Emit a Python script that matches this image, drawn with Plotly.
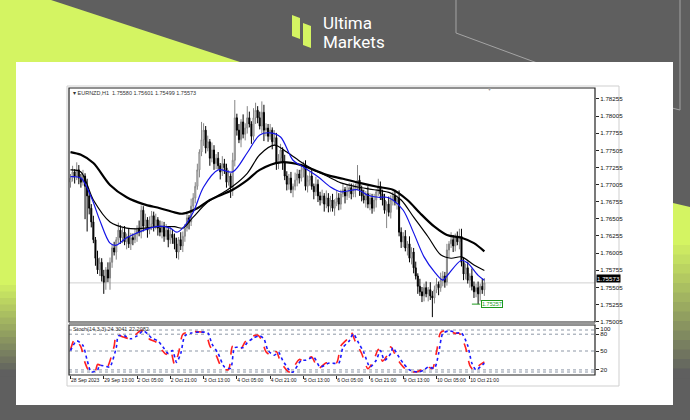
import plotly.graph_objects as go

# ---------------- data ----------------
open_ = [1.7704,1.7710,1.7719,1.7713,1.7722,1.7710,1.7704,1.7713,1.7698,1.7684,
1.7666,1.7646,1.7620,1.7593,1.7576,1.7587,1.7567,1.7558,1.7576,1.7564,
1.7587,1.7608,1.7602,1.7620,1.7634,1.7623,1.7631,1.7617,1.7625,1.7614,
1.7623,1.7620,1.7628,1.7637,1.7631,1.7663,1.7640,1.7649,1.7634,1.7643,
1.7655,1.7640,1.7649,1.7637,1.7631,1.7640,1.7625,1.7634,1.7620,1.7628,
1.7623,1.7614,1.7602,1.7620,1.7611,1.7625,1.7637,1.7652,1.7646,1.7669,
1.7681,1.7698,1.7722,1.7748,1.7766,1.7780,1.7754,1.7763,1.7739,1.7751,
1.7731,1.7739,1.7728,1.7719,1.7731,1.7725,1.7704,1.7713,1.7696,1.7736,
1.7798,1.7780,1.7766,1.7792,1.7774,1.7783,1.7798,1.7789,1.7771,1.7798,
1.7809,1.7798,1.7786,1.7806,1.7780,1.7783,1.7771,1.7780,1.7763,1.7769,
1.7731,1.7739,1.7751,1.7733,1.7713,1.7701,1.7710,1.7693,1.7698,1.7707,
1.7716,1.7710,1.7722,1.7725,1.7698,1.7707,1.7713,1.7698,1.7690,1.7701,
1.7684,1.7678,1.7684,1.7672,1.7681,1.7669,1.7678,1.7666,1.7675,1.7681,
1.7672,1.7687,1.7693,1.7684,1.7690,1.7696,1.7687,1.7693,1.7698,1.7707,
1.7693,1.7684,1.7678,1.7687,1.7672,1.7681,1.7666,1.7678,1.7690,1.7698,
1.7687,1.7678,1.7663,1.7672,1.7660,1.7678,1.7684,1.7675,1.7681,1.7631,
1.7617,1.7625,1.7608,1.7614,1.7593,1.7602,1.7579,1.7567,1.7552,1.7544,
1.7538,1.7550,1.7541,1.7547,1.7538,1.7535,1.7547,1.7555,1.7550,1.7561,
1.7567,1.7558,1.7605,1.7614,1.7620,1.7611,1.7623,1.7617,1.7625,1.7587,
1.7570,1.7579,1.7561,1.7567,1.7552,1.7544,1.7550,1.7541,1.7552,1.7547]

high = [1.7716,1.7728,1.7723,1.7733,1.7729,1.7716,1.7722,1.7717,1.7709,1.7691,
1.7672,1.7655,1.7624,1.7604,1.7594,1.7593,1.7576,1.7580,1.7587,1.7594,
1.7614,1.7617,1.7624,1.7645,1.7641,1.7637,1.7640,1.7629,1.7636,1.7630,
1.7629,1.7637,1.7641,1.7648,1.7670,1.7669,1.7658,1.7653,1.7654,1.7662,
1.7661,1.7658,1.7653,1.7648,1.7647,1.7646,1.7643,1.7638,1.7639,1.7635,
1.7629,1.7623,1.7624,1.7631,1.7632,1.7643,1.7661,1.7656,1.7680,1.7688,
1.7704,1.7731,1.7752,1.7792,1.7790,1.7786,1.7772,1.7767,1.7762,1.7758,
1.7745,1.7748,1.7732,1.7742,1.7738,1.7731,1.7722,1.7717,1.7747,1.7824,
1.7804,1.7789,1.7796,1.7803,1.7790,1.7815,1.7807,1.7793,1.7812,1.7820,
1.7815,1.7807,1.7822,1.7817,1.7790,1.7789,1.7789,1.7784,1.7780,1.7776,
1.7745,1.7760,1.7755,1.7744,1.7720,1.7716,1.7719,1.7702,1.7718,1.7723,
1.7722,1.7731,1.7734,1.7736,1.7714,1.7719,1.7722,1.7702,1.7712,1.7708,
1.7690,1.7693,1.7688,1.7692,1.7688,1.7684,1.7687,1.7679,1.7692,1.7688,
1.7693,1.7702,1.7697,1.7701,1.7703,1.7702,1.7702,1.7702,1.7729,1.7714,
1.7699,1.7693,1.7691,1.7698,1.7688,1.7687,1.7687,1.7694,1.7709,1.7705,
1.7693,1.7687,1.7676,1.7683,1.7685,1.7690,1.7693,1.7685,1.7692,1.7638,
1.7631,1.7634,1.7618,1.7625,1.7609,1.7608,1.7588,1.7571,1.7563,1.7551,
1.7556,1.7559,1.7551,1.7558,1.7545,1.7553,1.7564,1.7559,1.7572,1.7574,
1.7573,1.7614,1.7618,1.7631,1.7627,1.7629,1.7632,1.7636,1.7636,1.7594,
1.7585,1.7588,1.7571,1.7578,1.7559,1.7556,1.7559,1.7556,1.7563,1.7564]

low = [1.7696,1.7705,1.7702,1.7707,1.7701,1.7696,1.7699,1.7650,1.7632,1.7657,
1.7638,1.7615,1.7582,1.7570,1.7567,1.7559,1.7541,1.7547,1.7558,1.7547,
1.7579,1.7597,1.7591,1.7614,1.7614,1.7615,1.7612,1.7606,1.7608,1.7605,
1.7612,1.7615,1.7617,1.7625,1.7622,1.7632,1.7635,1.7623,1.7628,1.7634,
1.7632,1.7635,1.7626,1.7625,1.7622,1.7617,1.7620,1.7609,1.7614,1.7614,
1.7606,1.7593,1.7591,1.7605,1.7602,1.7617,1.7632,1.7635,1.7640,1.7660,
1.7673,1.7693,1.7711,1.7742,1.7757,1.7746,1.7749,1.7728,1.7733,1.7722,
1.7723,1.7723,1.7708,1.7713,1.7716,1.7696,1.7699,1.7681,1.7684,1.7727,
1.7772,1.7761,1.7755,1.7768,1.7765,1.7775,1.7784,1.7760,1.7765,1.7789,
1.7790,1.7781,1.7775,1.7764,1.7771,1.7763,1.7766,1.7752,1.7757,1.7722,
1.7723,1.7734,1.7722,1.7707,1.7692,1.7693,1.7688,1.7682,1.7692,1.7698,
1.7702,1.7705,1.7711,1.7692,1.7689,1.7699,1.7693,1.7679,1.7684,1.7675,
1.7670,1.7673,1.7661,1.7666,1.7660,1.7661,1.7661,1.7655,1.7669,1.7663,
1.7664,1.7682,1.7673,1.7678,1.7681,1.7679,1.7682,1.7682,1.7692,1.7684,
1.7676,1.7673,1.7667,1.7666,1.7663,1.7658,1.7661,1.7667,1.7684,1.7678,
1.7670,1.7658,1.7637,1.7654,1.7651,1.7670,1.7670,1.7664,1.7625,1.7608,
1.7609,1.7603,1.7597,1.7587,1.7584,1.7571,1.7562,1.7541,1.7538,1.7529,
1.7530,1.7536,1.7530,1.7532,1.7507,1.7527,1.7542,1.7539,1.7544,1.7552,
1.7550,1.7553,1.7594,1.7608,1.7602,1.7603,1.7612,1.7606,1.7581,1.7561,
1.7562,1.7556,1.7550,1.7546,1.7535,1.7536,1.7526,1.7530,1.7541,1.7538]

close = [1.7710,1.7719,1.7713,1.7722,1.7710,1.7704,1.7713,1.7698,1.7684,1.7666,
1.7646,1.7620,1.7593,1.7576,1.7587,1.7567,1.7558,1.7576,1.7564,1.7587,
1.7608,1.7602,1.7620,1.7634,1.7623,1.7631,1.7617,1.7625,1.7614,1.7623,
1.7620,1.7628,1.7637,1.7631,1.7663,1.7640,1.7649,1.7634,1.7643,1.7655,
1.7640,1.7649,1.7637,1.7631,1.7640,1.7625,1.7634,1.7620,1.7628,1.7623,
1.7614,1.7602,1.7620,1.7611,1.7625,1.7637,1.7652,1.7646,1.7669,1.7681,
1.7698,1.7722,1.7748,1.7766,1.7780,1.7754,1.7763,1.7739,1.7751,1.7731,
1.7739,1.7728,1.7719,1.7731,1.7725,1.7704,1.7713,1.7696,1.7736,1.7798,
1.7780,1.7766,1.7792,1.7774,1.7783,1.7798,1.7789,1.7771,1.7798,1.7809,
1.7798,1.7786,1.7806,1.7780,1.7783,1.7771,1.7780,1.7763,1.7769,1.7731,
1.7739,1.7751,1.7733,1.7713,1.7701,1.7710,1.7693,1.7698,1.7707,1.7716,
1.7710,1.7722,1.7725,1.7698,1.7707,1.7713,1.7698,1.7690,1.7701,1.7684,
1.7678,1.7684,1.7672,1.7681,1.7669,1.7678,1.7666,1.7675,1.7681,1.7672,
1.7687,1.7693,1.7684,1.7690,1.7696,1.7687,1.7693,1.7698,1.7707,1.7693,
1.7684,1.7678,1.7687,1.7672,1.7681,1.7666,1.7678,1.7690,1.7698,1.7687,
1.7678,1.7663,1.7672,1.7660,1.7678,1.7684,1.7675,1.7681,1.7631,1.7617,
1.7625,1.7608,1.7614,1.7593,1.7602,1.7579,1.7567,1.7552,1.7544,1.7538,
1.7550,1.7541,1.7547,1.7538,1.7535,1.7547,1.7555,1.7550,1.7561,1.7567,
1.7558,1.7605,1.7614,1.7620,1.7611,1.7623,1.7617,1.7625,1.7587,1.7570,
1.7579,1.7561,1.7567,1.7552,1.7544,1.7550,1.7541,1.7552,1.7547,1.7557]

# moving averages (bar index, price)
ma_fast_x = [0,5,10,14,19,22,27,32,38,43,48,51,54,59,64,71,78,85,91,96,101,107,112,119,125,130,138,143,148,152,155,160,165,170,175,179,181,188,191,196,199]
ma_fast_y = [1.7712,1.7710,1.7682,1.7649,1.7615,1.7612,1.7623,1.7630,1.7637,1.7640,1.7637,1.7631,1.7637,1.7660,1.7697,1.7722,1.7719,1.7747,1.7773,1.7776,1.7770,1.7736,1.7726,1.7712,1.7697,1.7690,1.7693,1.7685,1.7682,1.7682,1.7678,1.7663,1.7630,1.7595,1.7573,1.7561,1.7567,1.7590,1.7586,1.7568,1.7561]
ma_mid_x = [0,5,11,19,27,32,43,50,54,59,66,74,78,85,91,98,104,111,117,124,130,138,146,154,159,165,172,178,183,188,194,199]
ma_mid_y = [1.7722,1.7719,1.7678,1.7646,1.7637,1.7636,1.7639,1.7639,1.7637,1.7653,1.7675,1.7690,1.7698,1.7717,1.7744,1.7758,1.7748,1.7733,1.7722,1.7712,1.7703,1.7697,1.7693,1.7688,1.7678,1.7653,1.7624,1.7598,1.7593,1.7595,1.7583,1.7575]
ma_slow_x = [0,5,11,19,27,35,43,50,54,61,67,78,85,91,101,111,117,124,131,139,148,155,162,168,175,181,188,194,199]
ma_slow_y = [1.7748,1.7744,1.7732,1.7700,1.7682,1.7672,1.7666,1.7660,1.7658,1.7666,1.7678,1.7693,1.7707,1.7722,1.7733,1.7729,1.7722,1.7714,1.7709,1.7703,1.7697,1.7693,1.7678,1.7659,1.7639,1.7627,1.7623,1.7615,1.7603]

# stochastic (bar index, value)
stoch_main_x = [0,3,6,8,10,13,14,18,19,22,23,26,29,32,35,37,39,42,45,47,49,51,53,55,58,62,66,68,71,74,77,79,83,85,88,91,93,95,98,100,102,106,107,111,113,117,120,124,126,129,131,134,136,138,141,144,147,149,151,154,155,158,160,163,167,170,172,175,177,179,182,186,188,191,193,195,197,199]
stoch_main_y = [51,74,63,28,0,5,16,12,12,58,86,86,79,86,98,91,81,74,56,44,51,23,44,86,93,95,93,67,44,12,9,58,58,70,81,86,79,51,40,47,28,0,0,28,28,35,12,21,21,21,58,74,91,74,47,12,28,51,28,44,58,35,21,5,0,5,12,9,44,91,98,93,93,63,21,5,12,21]
stoch_sig_x = [0,2,5,7,9,12,13,17,18,21,22,25,28,31,34,36,38,41,44,46,48,50,52,54,57,61,65,67,70,73,76,78,82,84,87,90,92,94,97,99,101,105,106,110,112,116,119,123,125,128,130,133,135,137,140,143,146,148,150,153,154,157,159,162,166,169,171,174,176,178,181,185,187,190,192,194,196,199]
stoch_sig_y = [53,78,60,22,2,4,18,10,14,62,90,84,80,88,99,90,78,72,52,42,53,18,46,90,95,96,92,62,40,8,6,62,56,72,84,88,76,48,38,49,24,0,2,30,26,36,8,22,20,22,62,78,94,72,44,8,30,54,26,46,60,32,18,3,0,6,14,8,48,94,99,92,92,58,16,4,14,24]
stoch_levels = [100, 90, 50, 5, 0]
stoch_tick_vals = [103, 90, 50, 5]
stoch_tick_text = ["100", "80", "50", "20"]

# axis labels
time_tick_pos = [0,16,32,48,64,80,96,112,128,144,160,176,192]
time_tick_text = ["28 Sep 2023","29 Sep 13:00","2 Oct 05:00","2 Oct 21:00","3 Oct 13:00",
                  "4 Oct 05:00","4 Oct 21:00","5 Oct 13:00","6 Oct 05:00","6 Oct 21:00",
                  "9 Oct 13:00","10 Oct 05:00","10 Oct 21:00"]
price_ticks = [1.78255,1.78005,1.77755,1.77505,1.77255,1.77005,1.76755,1.76505,
               1.76255,1.76005,1.75755,1.75505,1.75255,1.75005]
price_tick_text = ["1.78255","1.78005","1.77755","1.77505","1.77255","1.77005","1.76755",
                   "1.76505","1.76255","1.76005","1.75755","1.75505","1.75255","1.75005"]
last_price_text = "1.75573"
low_label_text = "1.75257"
chart_title = "\u25be EURNZD,H1  1.75580 1.75601 1.75499 1.75573"
stoch_title = "Stoch(14,3,3) 24.3041 22.2082"
brand_line1 = "Ultima"
brand_line2 = "Markets"

# ---------------- styling helpers ----------------
W, H = 690, 420
PL, PR, PT, PB = 69, 595, 88, 375          # plot area in pixels
LIME = (212, 244, 98)
GRAY = (95, 95, 95)


def px(x):
    return (x - PL) / (PR - PL)


def py(y):
    return (PB - y) / (PB - PT)


def path(pts, close_path=True):
    d = "M " + " L ".join(f"{px(x):.5f},{py(y):.5f}" for x, y in pts)
    return d + (" Z" if close_path else "")


def mix(a, b, t):
    return "rgb(%d,%d,%d)" % tuple(round(a[i] + (b[i] - a[i]) * t) for i in range(3))


shapes = []


def poly(pts, color, layer="below"):
    shapes.append(dict(type="path", xref="paper", yref="paper", path=path(pts),
                       fillcolor=color, line=dict(width=0), layer=layer))


def rect(x0, y0, x1, y1, fill=None, line_color=None, lw=1, layer="below"):
    shapes.append(dict(type="rect", xref="paper", yref="paper",
                       x0=px(x0), x1=px(x1), y0=py(y1), y1=py(y0),
                       fillcolor=fill if fill else "rgba(0,0,0,0)",
                       line=dict(color=line_color, width=lw) if line_color else dict(width=0),
                       layer=layer))


def seg(pts, color, lw=1, layer="below"):
    shapes.append(dict(type="path", xref="paper", yref="paper", path=path(pts, False),
                       line=dict(color=color, width=lw), layer=layer))


lime_css = "rgb(%d,%d,%d)" % LIME
# top-left lime wedge + left strip
poly([(0, 0), (51, 0), (240, 62), (16, 62), (16, 285), (0, 285)], lime_css)
n = 14
for k in range(n):
    y0 = 285 + k * 6.5
    poly([(0, y0), (16, y0), (16, y0 + 7), (0, y0 + 7)], mix(LIME, GRAY, (k + 1) / n))
# right lime strip with gradient
poly([(673, 203), (690, 207), (690, 245), (673, 245)], lime_css)
for k in range(n):
    y0 = 245 + k * 9.5
    poly([(673, y0), (690, y0), (690, y0 + 10), (673, y0 + 10)], mix(LIME, GRAY, (k + 1) / n))
# decorative outlines
seg([(456, 0), (456, 33), (540, 64)], "#a4a4a4", 1)
seg([(680, 0), (680, 110), (672, 108)], "#a4a4a4", 1)
# white card
rect(16, 62, 673, 405, fill="white")
# logo icon
poly([(292, 15), (300, 18), (300, 39), (292, 36)], lime_css)
poly([(303, 23), (311, 26), (311, 48), (303, 45)], lime_css)
# terminal window frame
rect(67, 86, 619, 386, line_color="#cfcfcf", lw=1)
# chart panel frames
rect(69, 88, 595, 322, line_color="#222222", lw=1.2, layer="above")
rect(69, 325, 595, 375, line_color="#222222", lw=1.2, layer="above")
seg([(69, 323.5), (595, 323.5)], "#9a9a9a", 1.5, layer="above")

# data-referenced shapes
shapes.append(dict(type="line", xref="x domain", yref="y", x0=0, x1=1,
                   y0=close[-1], y1=close[-1], line=dict(color="#d0d0d0", width=1), layer="below"))
for lv in stoch_levels:
    shapes.append(dict(type="line", xref="x domain", yref="y2", x0=0, x1=1,
                       y0=lv, y1=lv, line=dict(color="#8d97a6", width=1, dash="dot"),
                       layer="below"))
lo_idx = len(low) - 10 + low[-10:].index(min(low[-10:]))
shapes.append(dict(type="line", xref="x", yref="y", x0=lo_idx - 3, x1=lo_idx + 1,
                   y0=low[lo_idx], y1=low[lo_idx], line=dict(color="#1e9a1e", width=1),
                   layer="above"))

bars = list(range(len(close)))

fig = go.Figure()
fig.add_trace(go.Candlestick(
    x=bars, open=open_, high=high, low=low, close=close,
    increasing=dict(line=dict(color="#858585", width=1), fillcolor="#ffffff"),
    decreasing=dict(line=dict(color="#000000", width=1), fillcolor="#000000"),
    whiskerwidth=0, hoverinfo="skip", xaxis="x", yaxis="y"))
fig.add_trace(go.Scatter(x=ma_slow_x, y=ma_slow_y, mode="lines", xaxis="x", yaxis="y",
                         line=dict(color="#000000", width=2.2, shape="spline", smoothing=0.9),
                         hoverinfo="skip"))
fig.add_trace(go.Scatter(x=ma_mid_x, y=ma_mid_y, mode="lines", xaxis="x", yaxis="y",
                         line=dict(color="#000000", width=1.2, shape="spline", smoothing=0.9),
                         hoverinfo="skip"))
fig.add_trace(go.Scatter(x=ma_fast_x, y=ma_fast_y, mode="lines", xaxis="x", yaxis="y",
                         line=dict(color="#1414e6", width=1.2, shape="spline", smoothing=0.9),
                         hoverinfo="skip"))
fig.add_trace(go.Scatter(x=stoch_sig_x, y=stoch_sig_y, mode="lines", xaxis="x", yaxis="y2",
                         line=dict(color="#ff2020", width=1.6, dash="dash", shape="spline",
                                   smoothing=0.7), hoverinfo="skip"))
fig.add_trace(go.Scatter(x=stoch_main_x, y=stoch_main_y, mode="lines", xaxis="x", yaxis="y2",
                         line=dict(color="#1a1aff", width=1.6, dash="dot", shape="spline",
                                   smoothing=0.7), hoverinfo="skip"))

small = dict(family="Liberation Sans, Arial, sans-serif", size=6.2, color="#111111")
xsmall = dict(family="Liberation Sans, Arial, sans-serif", size=5.0, color="#111111")

annotations = [
    dict(xref="paper", yref="paper", x=px(321), y=py(23.5), text=brand_line1, showarrow=False,
         xanchor="left", yanchor="middle",
         font=dict(family="Roboto, Arial, sans-serif", size=17, color="white")),
    dict(xref="paper", yref="paper", x=px(321), y=py(42), text=brand_line2, showarrow=False,
         xanchor="left", yanchor="middle",
         font=dict(family="Roboto, Arial, sans-serif", size=17, color="white")),
    dict(xref="paper", yref="paper", x=px(71), y=py(92.5), text=chart_title, showarrow=False,
         xanchor="left", yanchor="middle", font=dict(family="Liberation Sans, Arial", size=5.5,
                                                     color="#333333")),
    dict(xref="paper", yref="paper", x=px(71), y=py(329), text=stoch_title, showarrow=False,
         xanchor="left", yanchor="middle", font=dict(family="Liberation Sans, Arial", size=5.5,
                                                     color="#333333")),
    dict(xref="paper", yref="y", x=px(596), y=close[-1], text=last_price_text, showarrow=False,
         xanchor="left", yanchor="bottom", bgcolor="#000000", borderpad=0, height=7,
         font=dict(family="Liberation Sans, Arial", size=6.2, color="white")),
    dict(xref="x", yref="y", x=lo_idx + 1.2, y=low[lo_idx], text=low_label_text, showarrow=False,
         xanchor="left", yanchor="middle", bgcolor="white", bordercolor="#1e9a1e",
         borderwidth=1, borderpad=0,
         font=dict(family="Liberation Sans, Arial", size=5.5, color="#1e9a1e")),
    dict(xref="paper", yref="paper", x=px(489), y=py(89.5), text="\u25bc", showarrow=False,
         xanchor="center", yanchor="middle", font=dict(size=5, color="#a0a0a0")),
]

fig.update_layout(
    width=W, height=H, margin=dict(l=PL, r=W - PR, t=PT, b=H - PB, pad=0),
    paper_bgcolor="rgb(%d,%d,%d)" % GRAY, plot_bgcolor="white",
    showlegend=False, shapes=shapes, annotations=annotations,
    xaxis=dict(domain=[0, 1], anchor="y2", range=[-0.72, 252.2], showgrid=False,
               zeroline=False, showline=False, rangeslider=dict(visible=False),
               tickvals=time_tick_pos, ticktext=time_tick_text, ticks="outside",
               ticklen=3, tickwidth=1, tickcolor="#222222", tickangle=0,
               ticklabelposition="outside right", tickfont=xsmall, fixedrange=True),
    yaxis=dict(domain=[(PB - 322) / (PB - PT), 1], anchor="x", side="right",
               range=[1.74999, 1.78415], showgrid=False, zeroline=False, showline=False,
               tickvals=price_ticks, ticktext=price_tick_text, ticks="outside", ticklen=3,
               tickcolor="#222222", tickfont=small, fixedrange=True),
    yaxis2=dict(domain=[0, (PB - 325) / (PB - PT)], anchor="x", side="right",
                range=[-7.1, 111.9], showgrid=False, zeroline=False, showline=False,
                tickvals=stoch_tick_vals, ticktext=stoch_tick_text, ticks="outside",
                ticklen=3, tickcolor="#222222", tickfont=small, fixedrange=True),
)

fig.write_html("out.html", config={"displayModeBar": False},
               post_script="document.body.style.margin='0px';document.body.style.overflow='hidden';")
